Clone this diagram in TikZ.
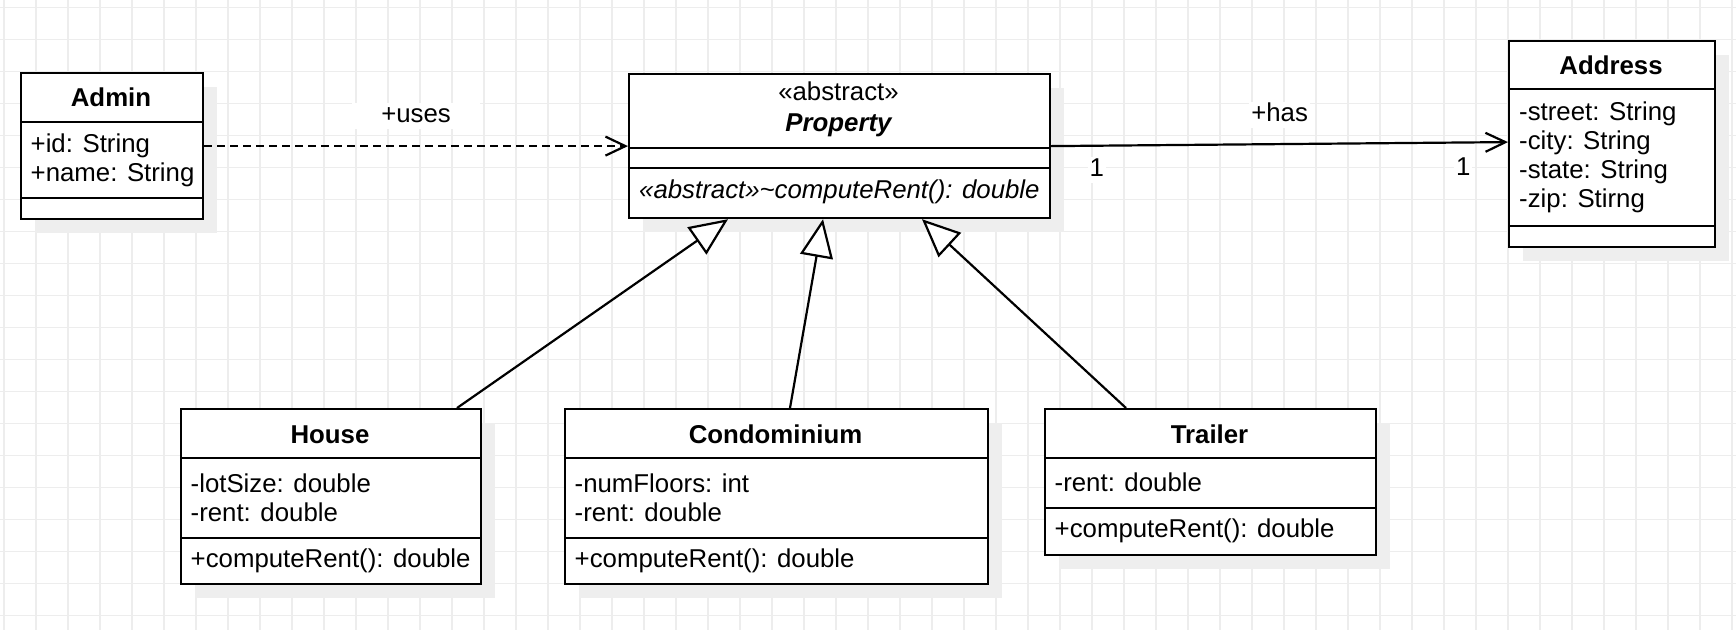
\documentclass[tikz,border=0pt]{standalone}
\usepackage{fontspec}
\setmainfont{Liberation Sans}
\usetikzlibrary{arrows.meta}
\definecolor{gridc}{HTML}{EDEDED}
\definecolor{shadowc}{HTML}{EEEEEE}
\newcommand\umlfont{\fontsize{25.8}{29}\selectfont}
\tikzset{
  classbox/.style={draw, line width=2.2pt, fill=white, inner sep=0pt, anchor=north west,
    preaction={fill=shadowc, transform canvas={shift={(14pt,-14pt)}}}},
  sepline/.style={line width=2.2pt},
  hdr/.style={font=\umlfont\bfseries, anchor=base, inner sep=0pt},
  txt/.style={anchor=base west, inner sep=0pt},
  edgelbl/.style={fill=white, inner xsep=2pt, inner ysep=1pt, text height=18.5pt, text depth=5.4pt, anchor=base},
  inherit/.style={line width=2.2pt, -{Triangle[length=38pt,width=33pt,fill=white]}},
  assoc/.style={line width=2.2pt, -{Straight Barb[length=20pt,width=19pt]}},
  depend/.style={line width=2.2pt, dash pattern=on 8pt off 5pt, -{Straight Barb[length=20pt,width=19pt]}},
}
\begin{document}
\begin{tikzpicture}[x=1pt, y=-1pt, font=\umlfont]
\useasboundingbox (0,0) rectangle (1736,630);
\fill[white] (0,0) rectangle (1736,630);
% grid
\foreach \gx in {4,36,...,1736} \draw[gridc, line width=1.4pt] (\gx,0) -- (\gx,630);
\foreach \gy in {7.5,39.5,...,630} \draw[gridc, line width=1.4pt] (0,\gy) -- (1736,\gy);

% Admin
\node[classbox, minimum width=182pt, minimum height=146pt] (admin) at (20,72) {};
\draw[sepline] ([yshift=-50pt]admin.north west) -- ([yshift=-50pt]admin.north east);
\draw[sepline] ([yshift=-126pt]admin.north west) -- ([yshift=-126pt]admin.north east);
\node[hdr] (adminT) at (111,106) {Admin};
\node[txt] (adminA1) at (30.5,152) {+id: String};
\node[txt] (adminA2) at (30.5,181) {+name: String};

% Property
\node[classbox, minimum width=421pt, minimum height=144pt] (property) at (628,73) {};
\draw[sepline] ([yshift=-75pt]property.north west) -- ([yshift=-75pt]property.north east);
\draw[sepline] ([yshift=-95pt]property.north west) -- ([yshift=-95pt]property.north east);
\node[anchor=base, inner sep=0pt] (propS) at (838.5,100) {«abstract»};
\node[hdr, font=\umlfont\bfseries\itshape] (propT) at (838.5,131) {Property};
\node[txt, font=\umlfont\itshape] (propM) at (639,198) {«abstract»\textasciitilde computeRent(): double};

% Address
\node[classbox, minimum width=206pt, minimum height=206pt] (address) at (1508,40) {};
\draw[sepline] ([yshift=-49pt]address.north west) -- ([yshift=-49pt]address.north east);
\draw[sepline] ([yshift=-186pt]address.north west) -- ([yshift=-186pt]address.north east);
\node[hdr] (addrT) at (1611,74) {Address};
\node[txt] (addrA1) at (1519,120) {-street: String};
\node[txt] (addrA2) at (1519,149) {-city: String};
\node[txt] (addrA3) at (1519,178) {-state: String};
\node[txt] (addrA4) at (1519,207) {-zip: Stirng};

% House
\node[classbox, minimum width=300pt, minimum height=175pt] (house) at (180,408) {};
\draw[sepline] ([yshift=-50pt]house.north west) -- ([yshift=-50pt]house.north east);
\draw[sepline] ([yshift=-130pt]house.north west) -- ([yshift=-130pt]house.north east);
\node[hdr] (houseT) at (330,443) {House};
\node[txt] (houseA1) at (190.5,492) {-lotSize: double};
\node[txt] (houseA2) at (190.5,521) {-rent: double};
\node[txt] (houseM) at (190.5,567) {+computeRent(): double};

% Condominium
\node[classbox, minimum width=423pt, minimum height=175pt] (condo) at (564,408) {};
\draw[sepline] ([yshift=-50pt]condo.north west) -- ([yshift=-50pt]condo.north east);
\draw[sepline] ([yshift=-130pt]condo.north west) -- ([yshift=-130pt]condo.north east);
\node[hdr] (condoT) at (775.5,443) {Condominium};
\node[txt] (condoA1) at (574.5,492) {-numFloors: int};
\node[txt] (condoA2) at (574.5,521) {-rent: double};
\node[txt] (condoM) at (574.5,567) {+computeRent(): double};

% Trailer
\node[classbox, minimum width=331pt, minimum height=146pt] (trailer) at (1044,408) {};
\draw[sepline] ([yshift=-50pt]trailer.north west) -- ([yshift=-50pt]trailer.north east);
\draw[sepline] ([yshift=-100pt]trailer.north west) -- ([yshift=-100pt]trailer.north east);
\node[hdr] (trailerT) at (1209.5,443) {Trailer};
\node[txt] (trailerA1) at (1054.5,491) {-rent: double};
\node[txt] (trailerM) at (1054.5,537) {+computeRent(): double};

% connectors
\draw[depend] (admin.east) -- (property.west)
  node[edgelbl, midway, yshift=24pt, inner xsep=29pt] (usesL) {+uses};
\draw[assoc] (property.east) -- ([yshift=2pt]address.west)
  node[edgelbl, midway, yshift=22.5pt] (hasL) {+has}
  node[edgelbl, pos=0.1, yshift=-31pt] (m1) {1}
  node[edgelbl, pos=0.902, yshift=-33.5pt] (m2) {1};
\draw[inherit] ([xshift=277pt]house.north west) -- ([xshift=100pt]property.south west);
\draw[inherit] ([xshift=226pt]condo.north west) -- ([xshift=195pt]property.south west);
\draw[inherit] ([xshift=82pt]trailer.north west) -- ([xshift=294pt]property.south west);
\end{tikzpicture}
\end{document}
